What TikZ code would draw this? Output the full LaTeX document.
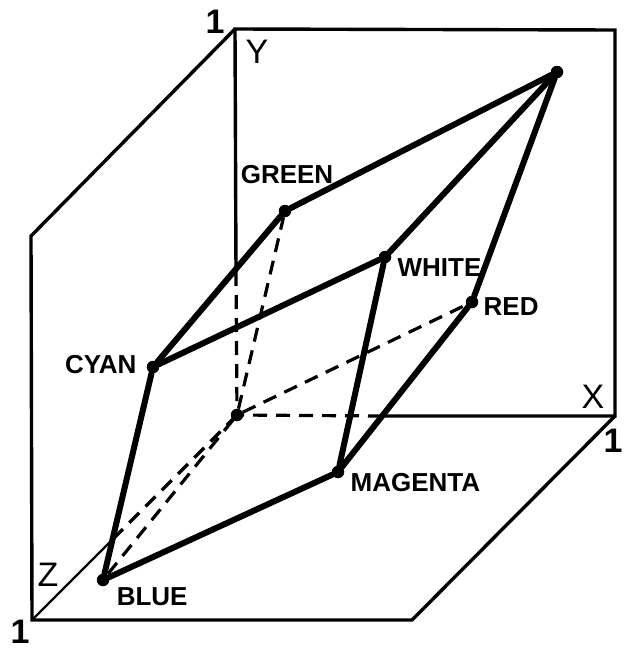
\documentclass[tikz,border=0pt]{standalone}
\usepackage{fontspec}
\setmainfont{Liberation Sans}
\usetikzlibrary{positioning}

\begin{document}
\begin{tikzpicture}[x=1pt, y=-1pt,
    wall/.style={line width=3.4pt, line join=miter},
    thinwall/.style={line width=2.4pt},
    hidden/.style={line width=3.2pt, dash pattern=on 14pt off 9pt},
    cubeedge/.style={line width=6pt, line cap=round},
    vertex/.style={circle, fill, inner sep=0pt, minimum size=12.5pt},
    tag/.style={inner sep=0pt, font=\fontsize{26}{26}\selectfont\bfseries},
    axislabel/.style={inner sep=0pt, font=\fontsize{34}{34}\selectfont},
    unitlabel/.style={inner sep=0pt, font=\fontsize{34}{34}\selectfont\bfseries}]
  \useasboundingbox (0,0) rectangle (624,651);

  % corners of the three walls
  \coordinate (yone) at (235,29);
  \coordinate (backtr) at (615,30);
  \coordinate (xone) at (615,416);
  \coordinate (yzone) at (31,236);
  \coordinate (zone) at (32,620);
  \coordinate (xzone) at (412,620);
  \coordinate (ycut) at (236,272);
  \coordinate (xcut) at (382,416);
  \coordinate (zcut) at (113,539);

  % vertices
  \node[vertex] (black) at (237,415) {};
  \node[vertex] (yellow) at (557,72) {};
  \node[vertex] (green) at (285,211) {};
  \node[vertex] (white) at (385,257) {};
  \node[vertex] (red) at (472,302) {};
  \node[vertex] (cyan) at (153,367) {};
  \node[vertex] (magenta) at (338,472) {};
  \node[vertex] (blue) at (103,580) {};

  % walls
  \draw[wall] (ycut) -- (yone) -- (backtr) -- (xone) -- (xcut);
  \draw[wall] (yone) -- (yzone) -- (zone) -- (xzone) -- (xone);
  \draw[thinwall] (zone) -- (zcut);
  \path[hidden]
    (ycut) edge (black.center)
    (xcut) edge (black.center)
    (zcut) edge (black.center)
    (black) edge (green)
    (black) edge (red)
    (black) edge (blue);

  % visible cube edges
  \path[cubeedge]
    (yellow) edge (green)
    (yellow) edge (white)
    (yellow) edge (red)
    (green) edge (cyan)
    (cyan) edge (white)
    (cyan) edge (blue)
    (white) edge (magenta)
    (red) edge (magenta)
    (blue) edge (magenta);

  % labels
  \node[tag] [above=21pt of green, xshift=2pt] {GREEN};
  \node[tag] [right=6pt of white, yshift=-11pt] {WHITE};
  \node[tag] [right=5pt of red, yshift=-5pt] {RED};
  \node[tag] [left=10pt of cyan, yshift=2pt] {CYAN};
  \node[tag] [right=6pt of magenta, yshift=-11pt] {MAGENTA};
  \node[tag] [below right=3pt and 9pt of blue] {BLUE};

  \node[axislabel] at (257,52) {Y};
  \node[axislabel] at (593,397) {X};
  \node[axislabel] at (48,575) {Z};
  \node[unitlabel] at (215,22) {1};
  \node[unitlabel] at (613,441) {1};
  \node[unitlabel] at (20,632) {1};
\end{tikzpicture}
\end{document}
